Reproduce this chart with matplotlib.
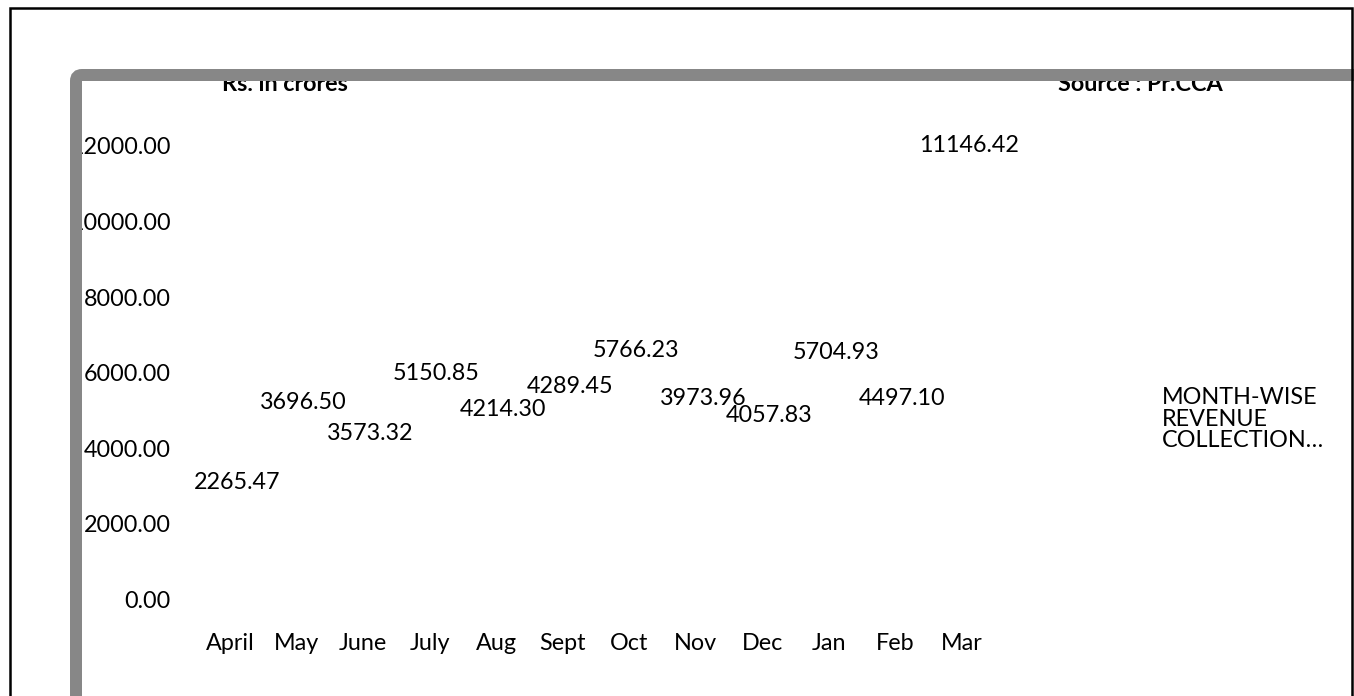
import matplotlib
matplotlib.use("Agg")
import matplotlib.pyplot as plt
from matplotlib import ticker, transforms
from matplotlib.patches import FancyBboxPatch, Rectangle

plt.rcParams["font.family"] = ["Lato", "DejaVu Sans"]

months = ["April", "May", "June", "July", "Aug", "Sept",
          "Oct", "Nov", "Dec", "Jan", "Feb", "Mar"]
revenue = [2265.47, 3696.50, 3573.32, 5150.85, 4214.30, 4289.45,
           5766.23, 3973.96, 4057.83, 5704.93, 4497.10, 11146.42]
y_ticks = [0, 2000, 4000, 6000, 8000, 10000, 12000]
series_name = ["MONTH-WISE", "REVENUE", "COLLECTION…"]

# extra lift (px) excel gave some labels to dodge neighbours
label_nudge = [0, 26, 0, 0, 0, 20, 0, 20, 0, 0, 0, 2]

W, H, DPI = 1354, 696, 100
FS = 16.8

fig = plt.figure(figsize=(W / DPI, H / DPI), dpi=DPI)
fig.patch.set_facecolor("white")


def px(x, y):
    # pixel coords measured from top-left -> figure fraction
    return x / W, 1 - y / H


left, top = px(203.75, 146)
right, bottom = px(1002.25, 599.5)
ax = fig.add_axes([left, bottom, right - left, top - bottom])
ax.set_xlim(-0.5, len(months) - 0.5)
ax.set_ylim(y_ticks[0], y_ticks[-1])
for s in ax.spines.values():
    s.set_visible(False)

ax.set_yticks(y_ticks)
ax.yaxis.set_major_formatter(ticker.FormatStrFormatter("%.2f"))
ax.set_xticks(range(len(months)), months)
ax.tick_params(length=0, labelsize=FS, colors="black")
ax.tick_params(axis="y", pad=23.6)
ax.tick_params(axis="x", pad=24)
shift = transforms.ScaledTranslation(-7 / DPI, 0, fig.dpi_scale_trans)
for lab in ax.get_xticklabels():
    lab.set_transform(lab.get_transform() + shift)

# bars have no fill in the source, only the data labels show
ax.bar(range(len(months)), revenue, width=0.6, color="none")
for i, v in enumerate(revenue):
    ax.annotate(f"{v:.2f}", (i, v), xytext=(0, 24.5 + label_nudge[i]),
                textcoords="offset pixels", ha="center", va="baseline",
                fontsize=FS)

# legend entry (no marker visible), wrapped over three lines
for k, line in enumerate(series_name):
    x, y = px(1162, 404 + 21.5 * k)
    fig.text(x, y, line, fontsize=FS, ha="left", va="baseline")

x, y = px(285, 91)
fig.text(x, y, "Rs. in crores", fontsize=FS, fontweight="bold",
         ha="center", va="baseline")
x, y = px(1140, 91)
fig.text(x, y, "Source : Pr.CCA", fontsize=FS, fontweight="bold",
         ha="center", va="baseline")

# grey chart-area frame drawn over the clipped texts
fig.patches.append(FancyBboxPatch(
    (76 / DPI, -1), (1400 - 76) / DPI, (H - 75) / DPI + 1,
    boxstyle="round,pad=0,rounding_size=0.06",
    transform=fig.dpi_scale_trans, facecolor="none",
    edgecolor="#878787", linewidth=12 * 72 / DPI, zorder=5))
# outer black border
fig.patches.append(Rectangle(
    (10 / DPI, -1), (1352 - 10) / DPI, (H - 8) / DPI + 1,
    transform=fig.dpi_scale_trans, facecolor="none",
    edgecolor="black", linewidth=2.5 * 72 / DPI, zorder=6))

fig.savefig("out.png", dpi=DPI)
